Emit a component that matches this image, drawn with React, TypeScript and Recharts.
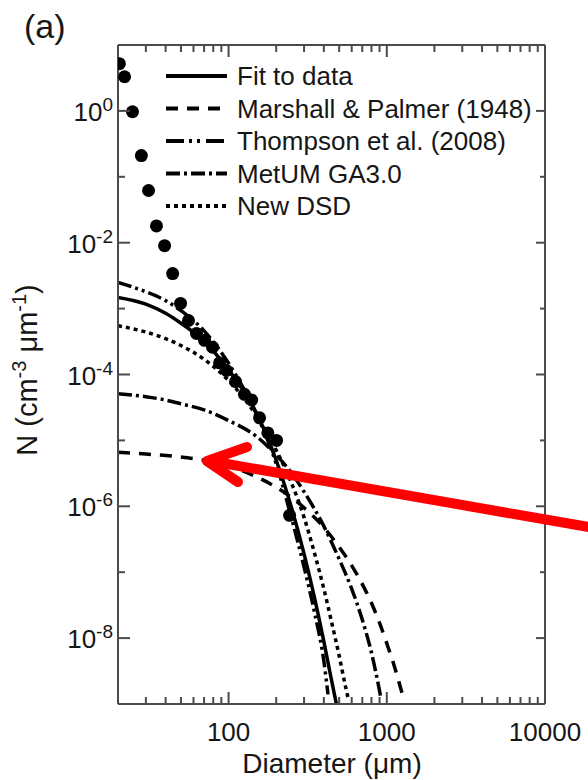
import React from 'react';
import { ComposedChart, Line, Scatter, XAxis, YAxis, Legend } from 'recharts';

// observed drop size distribution (black dots)
const obsDiameter = [20.4, 22, 24.7, 28.1, 31.2, 35, 39.4, 44.3, 49.7, 55.8, 62.7, 70.5, 79.2, 87.7, 97.1, 110.7, 126, 140, 157, 177, 201, 243];
const obsConc = [5.2, 3.3, 0.97, 0.21, 0.062, 0.018, 0.009, 0.0034, 0.0012, 6.6e-4, 4.2e-4, 3.3e-4, 2.6e-4, 1.5e-4, 1.15e-4, 7.8e-5, 5.0e-5, 4.1e-5, 2.2e-5, 1.3e-5, 1.0e-5, 7.3e-7];

// curves
const fitDiameter = [20, 30, 40, 50, 70, 100, 150, 200, 250, 300, 350, 400, 440, 480];
const fitConc = [1.48e-3, 1.17e-3, 8.5e-4, 6.0e-4, 3.2e-4, 1.17e-4, 2.6e-5, 5.0e-6, 9.5e-7, 1.9e-7, 4.0e-8, 8.9e-9, 2.8e-9, 1.0e-9];

const mpDiameter = [20, 30, 50, 70, 100, 150, 200, 300, 400, 500, 600, 700, 800, 900, 1000, 1100, 1250];
const mpConc = [6.6e-6, 6.2e-6, 5.6e-6, 5.0e-6, 4.1e-6, 2.8e-6, 1.95e-6, 9.5e-7, 4.8e-7, 2.4e-7, 1.26e-7, 6.6e-8, 3.4e-8, 1.7e-8, 8.3e-9, 4.2e-9, 1.45e-9];

const thompsonDiameter = [20, 30, 40, 50, 70, 100, 150, 200, 250, 300, 350, 400, 425];
const thompsonConc = [2.5e-3, 1.8e-3, 1.32e-3, 9.3e-4, 4.6e-4, 1.48e-4, 2.5e-5, 4.4e-6, 6.6e-7, 1.2e-7, 2.4e-8, 4.5e-9, 1.4e-9];

const metumDiameter = [20, 30, 40, 50, 70, 100, 150, 200, 250, 300, 400, 500, 600, 700, 800, 900, 920];
const metumConc = [5.1e-5, 4.6e-5, 4.1e-5, 3.6e-5, 2.9e-5, 2.0e-5, 1.15e-5, 6.0e-6, 3.2e-6, 1.66e-6, 5.0e-7, 1.58e-7, 5.6e-8, 1.9e-8, 6.0e-9, 1.58e-9, 1.2e-9];

const newDiameter = [20, 30, 40, 50, 70, 100, 150, 200, 250, 300, 350, 400, 450, 500, 550, 575];
const newConc = [5.5e-4, 4.4e-4, 3.5e-4, 2.75e-4, 1.7e-4, 8.1e-5, 2.35e-5, 7.1e-6, 2.24e-6, 6.8e-7, 1.9e-7, 5.6e-8, 1.66e-8, 5.4e-9, 1.78e-9, 1.12e-9];

const seriesNames = ['Fit to data', 'Marshall & Palmer (1948)', 'Thompson et al. (2008)', 'MetUM GA3.0', 'New DSD'];

const xTicks = [20, 30, 40, 50, 60, 70, 80, 90, 100, 200, 300, 400, 500, 600, 700, 800, 900, 1000, 2000, 3000, 4000, 5000, 6000, 7000, 8000, 9000, 10000];
const xLabelled = [100, 1000, 10000];
const yTicks = [1e-9, 1e-8, 1e-7, 1e-6, 1e-5, 1e-4, 1e-3, 1e-2, 1e-1, 1, 10];

const FONT = '"Liberation Sans", Arial, sans-serif';
const INK = '#161616';
const FRAME = '#4a4a4a';
const dashes = [undefined, '12 9', '14 4 3 4 3 4', '14 4 3 4', '4 4'];

const pts = (d: number[], n: number[]) => d.map((v, i) => ({ d: v, n: n[i] }));

const curves = [
  pts(fitDiameter, fitConc),
  pts(mpDiameter, mpConc),
  pts(thompsonDiameter, thompsonConc),
  pts(metumDiameter, metumConc),
  pts(newDiameter, newConc),
];
const obs = pts(obsDiameter, obsConc);

const BottomTick = ({ x, y, payload }: any) => {
  const v = payload.value;
  const labelled = xLabelled.includes(v);
  return (
    <g>
      <line x1={x} x2={x} y1={y} y2={y - (labelled ? 12 : 7)} stroke={FRAME} strokeWidth={2} />
      {labelled && (
        <text x={x} y={y + 37} textAnchor="middle" fontSize={26} fontFamily={FONT} fill={INK}>
          {v}
        </text>
      )}
    </g>
  );
};

const TopTick = ({ x, y, payload }: any) => (
  <line x1={x} x2={x} y1={y} y2={y + (xLabelled.includes(payload.value) ? 12 : 7)} stroke={FRAME} strokeWidth={2} />
);

const LeftTick = ({ x, y, payload }: any) => {
  const exp = Math.round(Math.log10(payload.value));
  const major = exp % 2 === 0;
  return (
    <g>
      <line x1={x} x2={x + (major ? 12 : 7)} y1={y} y2={y} stroke={FRAME} strokeWidth={2} />
      {major && exp <= 0 && exp >= -8 && (
        <text x={x - 5} y={y + 10} textAnchor="end" fill={INK} fontFamily={FONT}>
          <tspan fontSize={26}>10</tspan>
          <tspan fontSize={19} dy={-10}>{exp}</tspan>
        </text>
      )}
    </g>
  );
};

const RightTick = ({ x, y, payload }: any) => {
  const exp = Math.round(Math.log10(payload.value));
  return <line x1={x} x2={x - (exp % 2 === 0 ? 9 : 5)} y1={y} y2={y} stroke={FRAME} strokeWidth={2} />;
};

const renderLegend = () => (
  <svg width={390} height={175}>
    {seriesNames.map((name, i) => {
      const cy = 21 + i * 32.5;
      return (
        <g key={name}>
          <line x1={6} x2={67} y1={cy} y2={cy} stroke="#000" strokeWidth={4} strokeDasharray={i === 2 ? '18 5 3 5 3 6' : dashes[i]} />
          <text x={77} y={cy + 9} fontSize={26} fontFamily={FONT} fill={INK}>
            {name}
          </text>
        </g>
      );
    })}
  </svg>
);

const Dot = (p: any) => <circle cx={p.cx} cy={p.cy} r={6.5} fill="#000" />;

export default function App() {
  return (
    <div style={{ position: 'absolute', left: 0, top: 0, width: 588, height: 780, background: '#fff', fontFamily: FONT }}>
      <ComposedChart width={588} height={780} margin={{ top: 44, right: 42, bottom: 0, left: 0 }}>
        <XAxis
          dataKey="d"
          type="number"
          scale="log"
          domain={[20, 10000]}
          allowDataOverflow
          ticks={xTicks}
          interval={0}
          height={76}
          tickSize={0}
          tickMargin={0}
          tickLine={false}
          axisLine={{ stroke: FRAME, strokeWidth: 2 }}
          tick={BottomTick}
        />
        <XAxis
          xAxisId="top"
          orientation="top"
          dataKey="d"
          type="number"
          scale="log"
          domain={[20, 10000]}
          allowDataOverflow
          ticks={xTicks}
          interval={0}
          height={1}
          tickSize={0}
          tickMargin={0}
          tickLine={false}
          axisLine={{ stroke: FRAME, strokeWidth: 2 }}
          tick={TopTick}
        />
        <YAxis
          dataKey="n"
          type="number"
          scale="log"
          domain={[1e-9, 10]}
          allowDataOverflow
          ticks={yTicks}
          interval={0}
          width={118}
          tickSize={0}
          tickMargin={0}
          tickLine={false}
          axisLine={{ stroke: FRAME, strokeWidth: 2 }}
          tick={LeftTick}
        />
        <YAxis
          yAxisId="right"
          orientation="right"
          dataKey="n"
          type="number"
          scale="log"
          domain={[1e-9, 10]}
          allowDataOverflow
          ticks={yTicks}
          interval={0}
          width={1}
          tickSize={0}
          tickMargin={0}
          tickLine={false}
          axisLine={{ stroke: FRAME, strokeWidth: 2 }}
          tick={RightTick}
        />
        {curves.map((data, i) => (
          <Line
            key={seriesNames[i]}
            name={seriesNames[i]}
            data={data}
            dataKey="n"
            type="monotone"
            stroke="#000"
            strokeWidth={3.5}
            strokeDasharray={dashes[i]}
            dot={false}
            activeDot={false}
            isAnimationActive={false}
          />
        ))}
        <Scatter
          name="Observed"
          data={obs}
          dataKey="n"
          xAxisId="top"
          yAxisId="right"
          shape={Dot}
          isAnimationActive={false}
        />
        <Legend
          layout="vertical"
          align="center"
          verticalAlign="middle"
          content={renderLegend}
          wrapperStyle={{ position: 'absolute', left: 160, top: 55, width: 390, height: 175 }}
        />
      </ComposedChart>
      <svg width={588} height={780} style={{ position: 'absolute', left: 0, top: 0, pointerEvents: 'none' }}>
        <text x={24} y={38} fontSize={34} fontFamily={FONT} fill={INK}>(a)</text>
        <text x={332} y={773} textAnchor="middle" fontSize={28} fontFamily={FONT} fill={INK}>Diameter (μm)</text>
        <text transform="translate(37,370) rotate(-90)" textAnchor="middle" fontSize={29} fontFamily={FONT} fill={INK}>
          N (cm<tspan fontSize={20} dy={-11}>-3</tspan>
          <tspan dy={11}> μm</tspan>
          <tspan fontSize={20} dy={-11}>-1</tspan>
          <tspan dy={11}>)</tspan>
        </text>
        <line x1={210} y1={461} x2={600} y2={529} stroke="#ff0000" strokeWidth={10} />
        <polyline
          points="247,447 207,461 238,482"
          fill="none"
          stroke="#ff0000"
          strokeWidth={10}
          strokeLinecap="round"
          strokeLinejoin="round"
        />
      </svg>
    </div>
  );
}
